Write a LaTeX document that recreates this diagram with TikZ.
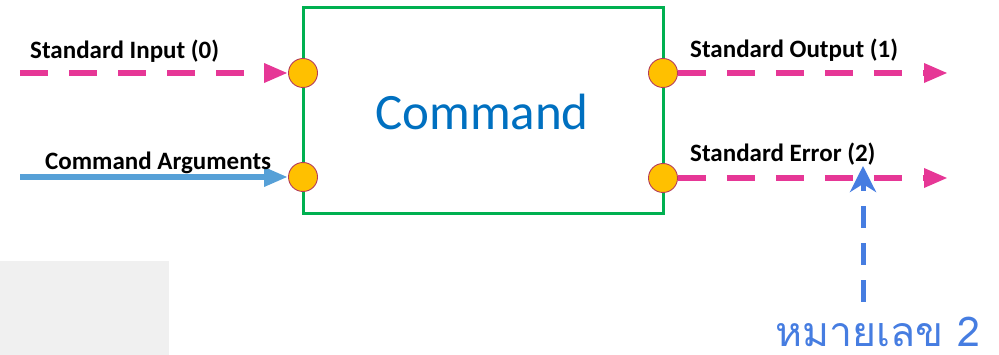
\documentclass[tikz,border=0pt]{standalone}
\usepackage{fontspec}
\setmainfont{Carlito}
\newfontfamily\thaifont[Script=Thai]{Loma}
\usetikzlibrary{arrows.meta}
\definecolor{boxgreen}{RGB}{0,176,80}
\definecolor{portfill}{RGB}{255,192,0}
\definecolor{portrim}{RGB}{180,60,90}
\definecolor{streampink}{RGB}{230,55,150}
\definecolor{argblue}{RGB}{86,160,215}
\definecolor{noteblue}{RGB}{70,125,225}
\definecolor{titleblue}{RGB}{0,112,192}
\definecolor{panelgray}{RGB}{240,240,240}
\tikzset{
  x=1pt, y=-1pt,
  port/.style={circle, fill=portfill, draw=portrim, line width=0.9pt, minimum size=29pt, inner sep=0pt},
  stream/.style={draw=streampink, line width=6.5pt, dash pattern=on 28pt off 21pt,
    -{Triangle[length=24pt,width=18pt,fill=streampink]}},
  argflow/.style={draw=argblue, line width=6pt, -{Triangle[length=24pt,width=18pt,fill=argblue]}},
  label/.style={font=\bfseries\fontsize{25}{30}\selectfont, anchor=base west, inner sep=0pt},
}
\begin{document}
\begin{tikzpicture}
\useasboundingbox (0,0) rectangle (999,355);
% grey panel at the lower left
\fill[panelgray] (0,261) rectangle (169,355);
% command box
\node[draw=boxgreen, line width=3pt, minimum width=360pt, minimum height=206pt, inner sep=0pt]
  (cmd) at (483,111) {};
\node[text=titleblue, font=\fontsize{51}{60}\selectfont, anchor=base, inner sep=0pt] (title) at (482,130) {Command};
% ports
\node[port] (pin) at (303,73) {};
\node[port] (parg) at (303,177) {};
\node[port] (pout) at (663,73) {};
\node[port] (perr) at (663,178) {};
% free ends
\coordinate (sin) at (20,73);
\coordinate (sarg) at (20,177);
\coordinate (eout) at (948,73);
\coordinate (eerr) at (948,178);
\coordinate (nbot) at (863,302);
\coordinate (ntop) at (863,166);
% streams
\draw[stream] (sin) -- (pin.west);
\draw[argflow] (sarg) -- (parg.west);
\draw[stream] (pout.east) -- (eout);
\draw[stream] (perr.east) -- (eerr);
% labels
\node[label] (lin) at (30,59) {Standard Input (0)};
\node[label] (larg) at (45,170) {Command Arguments};
\node[label] (lout) at (690,58) {Standard Output (1)};
\node[label] (lerr) at (690,162) {Standard Error (2)};
% note
\draw[draw=noteblue, line width=5pt, dash pattern=on 22pt off 15pt,
  -{Stealth[length=26pt,width=26pt,inset=8pt,fill=noteblue]}] (nbot) -- (ntop);
\node[text=noteblue, font=\thaifont\fontsize{41}{48}\selectfont, anchor=base, inner sep=0pt] (note) at (878,347) {\raisebox{0pt}[\height][0pt]{หมายเลข 2}};
\end{tikzpicture}
\end{document}
